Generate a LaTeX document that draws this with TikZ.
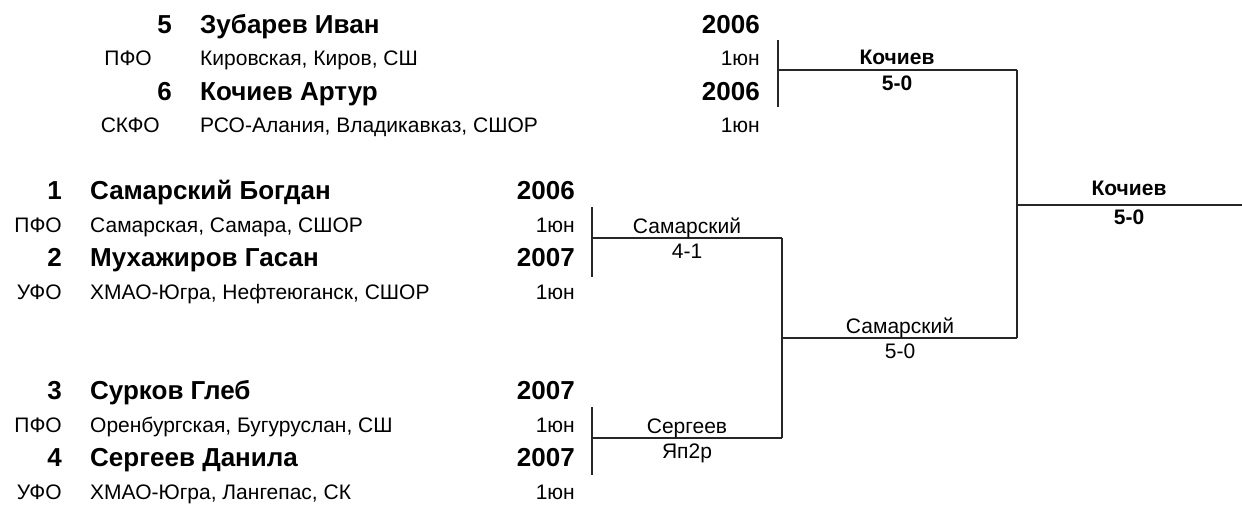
\documentclass[tikz,border=0pt]{standalone}
\usepackage{fontspec}
\setmainfont{Liberation Sans}
\usetikzlibrary{positioning}
\tikzstyle{fighter}=[
font=\fontsize{26}{30}\selectfont\bfseries,
inner sep=0pt,
anchor=base west
]
\tikzstyle{seed}=[
font=\fontsize{26}{30}\selectfont\bfseries,
inner sep=0pt,
anchor=base east
]
\tikzstyle{year}=[
font=\fontsize{26}{30}\selectfont\bfseries,
inner sep=0pt,
anchor=base east
]
\tikzstyle{club}=[
font=\fontsize{21}{25}\selectfont,
inner sep=0pt,
anchor=base west
]
\tikzstyle{fed}=[
font=\fontsize{21}{25}\selectfont,
inner sep=0pt,
anchor=base east
]
\tikzstyle{rank}=[
font=\fontsize{21}{25}\selectfont,
inner sep=0pt,
anchor=base east
]
\tikzstyle{winner}=[
font=\fontsize{21}{25}\selectfont,
inner sep=0pt,
anchor=base
]
\tikzstyle{winnerbold}=[
winner,
font=\fontsize{21}{25}\selectfont\bfseries
]
\tikzstyle{bracket}=[
line width=1.2pt,
black!85
]

\begin{document}
\begin{tikzpicture}[x=1pt,y=-1pt]
\useasboundingbox (0,0) rectangle (1242,506);

% first pair
\node (nameA1) [fighter] at (200,33) {Зубарев Иван};
\node (seedA1) [left=28pt of nameA1.base west, seed] {5};
\node (clubA1) [club] at (200,65) {Кировская, Киров, СШ};
\node (fedA1) [left=48pt of clubA1.base west, fed] {ПФО};
\node (yearA1) [year] at (760,33) {2006};
\node (rankA1) [rank] at (760,65) {1юн};
\node (nameA2) [fighter] at (200,100) {Кочиев Артур};
\node (seedA2) [left=28pt of nameA2.base west, seed] {6};
\node (clubA2) [club] at (200,132) {РСО-Алания, Владикавказ, СШОР};
\node (fedA2) [left=40pt of clubA2.base west, fed] {СКФО};
\node (yearA2) [year] at (760,100) {2006};
\node (rankA2) [rank] at (760,132) {1юн};

% second pair
\node (nameB1) [fighter] at (90,199) {Самарский Богдан};
\node (seedB1) [left=28pt of nameB1.base west, seed] {1};
\node (clubB1) [club] at (90,232) {Самарская, Самара, СШОР};
\node (fedB1) [left=28pt of clubB1.base west, fed] {ПФО};
\node (yearB1) [year] at (575,199) {2006};
\node (rankB1) [rank] at (575,232) {1юн};
\node (nameB2) [fighter] at (90,266) {Мухажиров Гасан};
\node (seedB2) [left=28pt of nameB2.base west, seed] {2};
\node (clubB2) [club] at (90,299) {ХМАО-Югра, Нефтеюганск, СШОР};
\node (fedB2) [left=28pt of clubB2.base west, fed] {УФО};
\node (yearB2) [year] at (575,266) {2007};
\node (rankB2) [rank] at (575,299) {1юн};

% third pair
\node (nameC1) [fighter] at (90,399) {Сурков Глеб};
\node (seedC1) [left=28pt of nameC1.base west, seed] {3};
\node (clubC1) [club] at (90,432) {Оренбургская, Бугуруслан, СШ};
\node (fedC1) [left=28pt of clubC1.base west, fed] {ПФО};
\node (yearC1) [year] at (575,399) {2007};
\node (rankC1) [rank] at (575,432) {1юн};
\node (nameC2) [fighter] at (90,466) {Сергеев Данила};
\node (seedC2) [left=28pt of nameC2.base west, seed] {4};
\node (clubC2) [club] at (90,499) {ХМАО-Югра, Лангепас, СК};
\node (fedC2) [left=28pt of clubC2.base west, fed] {УФО};
\node (yearC2) [year] at (575,466) {2007};
\node (rankC2) [rank] at (575,499) {1юн};

% bracket corners
\coordinate (a1) at (778,40);
\coordinate (a2) at (778,107);
\coordinate (a0) at (778,70);
\coordinate (b1) at (592,207);
\coordinate (b2) at (592,277);
\coordinate (b0) at (592,238);
\coordinate (c1) at (592,407);
\coordinate (c2) at (592,475);
\coordinate (c0) at (592,438);
\coordinate (s1) at (782,238);
\coordinate (s2) at (782,438);
\coordinate (s0) at (782,338);
\coordinate (f1) at (1017,70);
\coordinate (f2) at (1017,338);
\coordinate (f0) at (1017,205);
\coordinate (fend) at (1242,205);

\draw [bracket] (a1) -- (a2);
\draw [bracket] (a0) -- (f1);
\draw [bracket] (b1) -- (b2);
\draw [bracket] (b0) -- (s1);
\draw [bracket] (c1) -- (c2);
\draw [bracket] (c0) -- (s2);
\draw [bracket] (s1) -- (s2);
\draw [bracket] (s0) -- (f2);
\draw [bracket] (f1) -- (f2);
\draw [bracket] (f0) -- (fend);

% results
\node (winA) [winnerbold] at (897,64) {Кочиев};
\node (scoreA) [winnerbold] at (897,90) {5-0};
\node (winB) [winner] at (687,233) {Самарский};
\node (scoreB) [winner] at (687,258) {4-1};
\node (winC) [winner] at (687,433) {Сергеев};
\node (scoreC) [winner] at (687,458) {Яп2р};
\node (winS) [winner] at (900,333) {Самарский};
\node (scoreS) [winner] at (900,358) {5-0};
\node (winF) [winnerbold] at (1129,195) {Кочиев};
\node (scoreF) [winnerbold] at (1129,224) {5-0};

\end{tikzpicture}
\end{document}
